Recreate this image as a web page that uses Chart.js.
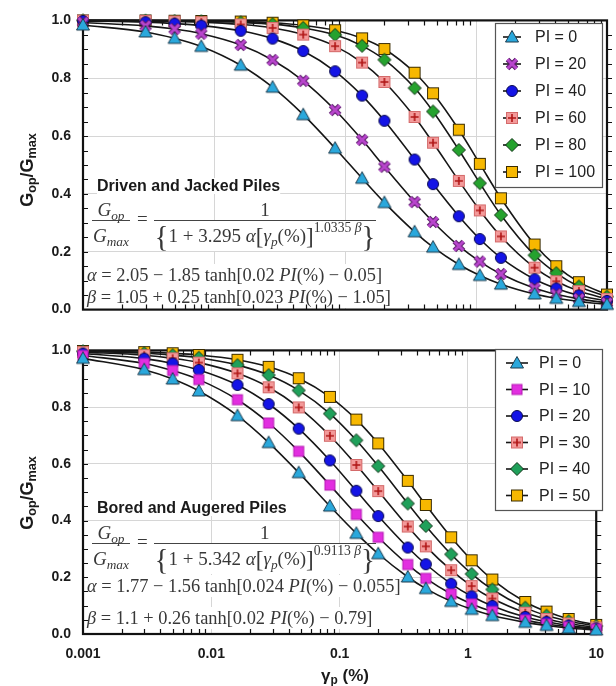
<!DOCTYPE html>
<html>
<head>
<meta charset="utf-8">
<script src="https://cdn.jsdelivr.net/npm/chart.js@4.4.0/dist/chart.umd.min.js"></script>
<style>
body{margin:0;background:#fff;}
#wrap{position:relative;width:616px;height:686px;overflow:hidden;font-family:"Liberation Sans",Arial,sans-serif;}
canvas{position:absolute;left:0;}
#c1{top:0;}
#c2{top:330px;}
.ytitle{position:absolute;font-weight:bold;font-size:18px;color:#1a1a1a;transform:translate(-50%,-50%) rotate(-90deg);white-space:nowrap;}
.ytitle sub,.xtitle sub{font-size:0.7em;vertical-align:-0.25em;line-height:0;}
.xtitle{position:absolute;font-weight:bold;font-size:17px;color:#1a1a1a;transform:translate(-50%,-50%);white-space:nowrap;}
.ttl{position:absolute;font-weight:bold;font-size:16px;line-height:16px;color:#1a1a1a;white-space:nowrap;}
.frow{position:absolute;display:flex;align-items:flex-start;font-family:"Liberation Serif","DejaVu Serif",serif;font-size:19px;color:#383838;white-space:nowrap;}
.fr{display:flex;flex-direction:column;align-items:center;}
.nu{height:20px;line-height:20px;}
.nu span{padding:0 2px;}
.de{border-top:1.3px solid #444;height:30px;line-height:30px;padding:0 1px;}
.eqs{margin:9px 6px 0 7px;line-height:20px;}
.frow sub{font-size:0.7em;vertical-align:-0.3em;line-height:0;}
.frow sup{font-size:0.72em;vertical-align:0.75em;line-height:0;}
.bb{font-size:29px;vertical-align:-4px;line-height:0;}
.bk{font-size:23px;vertical-align:-2px;line-height:0;}
.ln{position:absolute;font-family:"Liberation Serif","DejaVu Serif",serif;font-size:18.4px;line-height:22px;color:#383838;white-space:nowrap;}
</style>
</head>
<body>
<div id="wrap">
  <canvas id="c1" width="616" height="330"></canvas>
  <canvas id="c2" width="616" height="356"></canvas>

  <div class="ytitle" style="left:27px;top:170px">G<sub>op</sub>/G<sub>max</sub></div>
  <div class="ytitle" style="left:27px;top:493px">G<sub>op</sub>/G<sub>max</sub></div>
  <div class="xtitle" style="left:345px;top:676px">γ<sub>p</sub> (%)</div>

  <div id="eq1">
    <div class="ttl mask" style="left:97px;top:178px">Driven and Jacked Piles</div>
    <div class="frow" style="left:92px;top:200px">
      <span class="fr"><span class="nu"><span class="mask"><i>G<sub>op</sub></i></span></span><span class="de mask"><i>G<sub>max</sub></i></span></span>
      <span class="eqs mask">=</span>
      <span class="fr"><span class="nu"><span class="mask">1</span></span><span class="de mask"><span class="bb">{</span>1 + 3.295 <i>α</i><span class="bk">[</span><i>γ<sub>p</sub></i>(%)<span class="bk">]</span><sup>1.0335 <i>β</i></sup><span class="bb">}</span></span></span>
    </div>
    <div class="ln mask" style="left:87px;top:264px"><i>α</i> = 2.05 − 1.85 tanh[0.02 <i>PI</i>(%) − 0.05]</div>
    <div class="ln mask" style="left:87px;top:286px"><i>β</i> = 1.05 + 0.25 tanh[0.023 <i>PI</i>(%) − 1.05]</div>
  </div>

  <div id="eq2">
    <div class="ttl mask" style="left:97px;top:500px">Bored and Augered Piles</div>
    <div class="frow" style="left:92px;top:523px">
      <span class="fr"><span class="nu"><span class="mask"><i>G<sub>op</sub></i></span></span><span class="de mask"><i>G<sub>max</sub></i></span></span>
      <span class="eqs mask">=</span>
      <span class="fr"><span class="nu"><span class="mask">1</span></span><span class="de mask"><span class="bb">{</span>1 + 5.342 <i>α</i><span class="bk">[</span><i>γ<sub>p</sub></i>(%)<span class="bk">]</span><sup>0.9113 <i>β</i></sup><span class="bb">}</span></span></span>
    </div>
    <div class="ln mask" style="left:87px;top:575px"><i>α</i> = 1.77 − 1.56 tanh[0.024 <i>PI</i>(%) − 0.055]</div>
    <div class="ln mask" style="left:87px;top:607px"><i>β</i> = 1.1 + 0.26 tanh[0.02 <i>PI</i>(%) − 0.79]</div>
  </div>
</div>

<script>
// strain levels of the markers (%)
var strain = [0.001, 0.003, 0.005, 0.008, 0.016, 0.028, 0.048, 0.084, 0.135, 0.2,
              0.34, 0.47, 0.74, 1.07, 1.55, 2.8, 4.1, 6.1, 10];
var xTickVals = [0.001, 0.01, 0.1, 1, 10];

// Driven and jacked piles
var drivenPI = [0, 20, 40, 60, 80, 100];
var drivenPI0   = [0.984,0.960,0.938,0.910,0.845,0.769,0.674,0.558,0.454,0.370,0.269,0.216,0.156,0.118,0.088,0.054,0.039,0.028,0.018];
var drivenPI20  = [0.993,0.981,0.970,0.954,0.915,0.863,0.791,0.690,0.587,0.494,0.372,0.303,0.220,0.166,0.123,0.074,0.053,0.037,0.023];
var drivenPI40  = [0.998,0.994,0.989,0.982,0.964,0.937,0.894,0.824,0.740,0.653,0.519,0.434,0.323,0.244,0.179,0.105,0.073,0.049,0.030];
var drivenPI60  = [0.999,0.998,0.996,0.994,0.986,0.974,0.951,0.911,0.854,0.787,0.666,0.577,0.445,0.343,0.253,0.145,0.098,0.064,0.037];
var drivenPI80  = [1.000,0.999,0.998,0.997,0.993,0.987,0.974,0.950,0.912,0.864,0.766,0.685,0.552,0.437,0.327,0.188,0.126,0.080,0.045];
var drivenPI100 = [1.000,1.000,0.999,0.998,0.996,0.992,0.983,0.966,0.938,0.901,0.819,0.748,0.622,0.504,0.385,0.225,0.150,0.095,0.052];

// Bored and augered piles
var boredPI = [0, 10, 20, 30, 40, 50];
var boredPI0  = [0.972,0.932,0.899,0.857,0.770,0.675,0.569,0.451,0.355,0.283,0.201,0.160,0.115,0.087,0.065,0.041,0.030,0.021,0.014];
var boredPI10 = [0.982,0.954,0.929,0.897,0.826,0.744,0.644,0.525,0.422,0.341,0.245,0.196,0.141,0.106,0.079,0.049,0.035,0.025,0.017];
var boredPI20 = [0.989,0.971,0.954,0.931,0.878,0.811,0.724,0.612,0.505,0.416,0.305,0.246,0.177,0.133,0.099,0.060,0.043,0.030,0.020];
var boredPI30 = [0.994,0.983,0.972,0.957,0.919,0.870,0.799,0.699,0.596,0.504,0.379,0.309,0.225,0.169,0.125,0.075,0.053,0.037,0.023];
var boredPI40 = [0.997,0.990,0.983,0.974,0.948,0.913,0.859,0.777,0.683,0.592,0.460,0.381,0.281,0.212,0.157,0.093,0.065,0.045,0.028];
var boredPI50 = [0.998,0.994,0.990,0.984,0.967,0.942,0.902,0.836,0.756,0.672,0.540,0.455,0.341,0.260,0.192,0.113,0.079,0.053,0.032];


// small canvases used as point markers
function marker(kind) {
    var s = 16, c = document.createElement('canvas');
    c.width = s; c.height = s;
    var g = c.getContext('2d'), m = s / 2;
    g.lineJoin = 'miter';
    if (kind == 'tri') {
        g.beginPath();
        g.moveTo(m, m - 6.5); g.lineTo(m + 6.5, m + 5); g.lineTo(m - 6.5, m + 5); g.closePath();
        g.fillStyle = '#2aa8dc'; g.fill();
        g.strokeStyle = '#1d3b4d'; g.lineWidth = 1; g.stroke();
    } else if (kind == 'x') {
        g.beginPath();
        g.moveTo(m - 4.5, m - 4.5); g.lineTo(m + 4.5, m + 4.5);
        g.moveTo(m + 4.5, m - 4.5); g.lineTo(m - 4.5, m + 4.5);
        g.strokeStyle = '#5b1a6b'; g.lineWidth = 5; g.stroke();
        g.strokeStyle = '#b845cc'; g.lineWidth = 3; g.stroke();
    } else if (kind == 'circle') {
        g.beginPath(); g.arc(m, m, 5.5, 0, Math.PI * 2);
        g.fillStyle = '#1414e6'; g.fill();
        g.strokeStyle = '#0a0a50'; g.lineWidth = 1; g.stroke();
    } else if (kind == 'sqcross') {
        g.fillStyle = '#f39a9a'; g.fillRect(m - 5.5, m - 5.5, 11, 11);
        g.strokeStyle = '#d46a6a'; g.lineWidth = 1; g.strokeRect(m - 5.5, m - 5.5, 11, 11);
        g.beginPath();
        g.moveTo(m - 4, m); g.lineTo(m + 4, m); g.moveTo(m, m - 4); g.lineTo(m, m + 4);
        g.strokeStyle = '#b01515'; g.lineWidth = 1.6; g.stroke();
    } else if (kind == 'diamond' || kind == 'diamond2') {
        g.beginPath();
        g.moveTo(m, m - 6.5); g.lineTo(m + 6.5, m); g.lineTo(m, m + 6.5); g.lineTo(m - 6.5, m); g.closePath();
        g.fillStyle = kind == 'diamond' ? '#25a22e' : '#1fa05a'; g.fill();
        g.strokeStyle = '#0f3315'; g.lineWidth = 1; g.stroke();
    } else if (kind == 'sqyellow') {
        g.fillStyle = '#f7b800'; g.fillRect(m - 5.5, m - 5.5, 11, 11);
        g.strokeStyle = '#3b2c00'; g.lineWidth = 1; g.strokeRect(m - 5.5, m - 5.5, 11, 11);
    } else if (kind == 'sqmagenta') {
        g.fillStyle = '#e22ee0'; g.fillRect(m - 5, m - 5, 10, 10);
        g.strokeStyle = '#b51db3'; g.lineWidth = 1; g.strokeRect(m - 5, m - 5, 10, 10);
    }
    return c;
}

function serie(pi, vals, kind) {
    return {
        label: 'PI = ' + pi,
        data: strain.map(function (x, i) { return {x: x, y: vals[i]}; }),
        borderColor: '#161616',
        borderWidth: 1.6,
        cubicInterpolationMode: 'monotone',
        pointStyle: marker(kind),
        pointRadius: 6,
        clip: false
    };
}

// white boxes behind the equation text, frame, minor ticks
var frame = {
    id: 'frame',
    beforeDatasetsDraw: function (chart, args, o) {
        var a = chart.chartArea, ctx = chart.ctx, xs = chart.scales.x, ys = chart.scales.y;
        ctx.save();
        var cr = chart.canvas.getBoundingClientRect();
        ctx.fillStyle = '#fff';
        document.querySelectorAll('#' + o.mask + ' .mask').forEach(function (el) {
            var r = el.getBoundingClientRect();
            ctx.fillRect(r.left - cr.left, r.top - cr.top, r.width, r.height);
        });
        ctx.strokeStyle = '#111';
        ctx.lineWidth = 1.2;
        ctx.beginPath();
        for (var d = -3; d < 1; d++) {
            for (var k = 2; k < 10; k++) {
                var px = Math.round(xs.getPixelForValue(k * Math.pow(10, d))) + 0.5;
                ctx.moveTo(px, a.bottom); ctx.lineTo(px, a.bottom - 5);
                ctx.moveTo(px, a.top); ctx.lineTo(px, a.top + 5);
            }
        }
        for (var v = 0.05; v < 1; v += 0.05) {
            var py = Math.round(ys.getPixelForValue(v)) + 0.5;
            ctx.moveTo(a.left, py); ctx.lineTo(a.left + 5, py);
            ctx.moveTo(a.right, py); ctx.lineTo(a.right + 5, py);
        }
        ctx.stroke();
        ctx.lineWidth = 2.2;
        ctx.strokeRect(a.left, a.top, a.right - a.left, a.bottom - a.top);
        ctx.restore();
    }
};

var boxLegend = {
    id: 'boxLegend',
    afterDraw: function (chart, args, o) {
        var ctx = chart.ctx;
        ctx.save();
        ctx.fillStyle = '#fff';
        ctx.fillRect(o.x, o.y, o.w, o.h);
        ctx.strokeStyle = '#555'; ctx.lineWidth = 1.2;
        ctx.strokeRect(o.x + 0.5, o.y + 0.5, o.w, o.h);
        ctx.font = '16px "Liberation Sans", Arial, sans-serif';
        ctx.textBaseline = 'middle';
        chart.data.datasets.forEach(function (ds, i) {
            var cy = o.y + o.first + i * o.step;
            ctx.beginPath();
            ctx.moveTo(o.x + o.lx0, cy); ctx.lineTo(o.x + o.lx1, cy);
            ctx.strokeStyle = '#161616'; ctx.lineWidth = 1.6; ctx.stroke();
            var img = ds.pointStyle, mx = o.x + (o.lx0 + o.lx1) / 2;
            ctx.drawImage(img, mx - img.width / 2, cy - img.height / 2);
            ctx.fillStyle = '#222';
            ctx.fillText(ds.label, o.x + o.tx, cy + 1);
        });
        ctx.restore();
    }
};

function makeChart(id, datasets, padTop, xHeight, showX, maskId, legendOpts) {
    return new Chart(document.getElementById(id), {
        type: 'line',
        data: {datasets: datasets},
        plugins: [frame, boxLegend],
        options: {
            responsive: false,
            animation: false,
            events: [],
            layout: {padding: {left: 0, right: 9, top: padTop, bottom: 0}},
            plugins: {
                legend: {display: false},
                tooltip: {enabled: false},
                frame: {mask: maskId},
                boxLegend: legendOpts
            },
            scales: {
                x: {
                    type: 'logarithmic',
                    min: 0.001, max: 10,
                    afterBuildTicks: function (s) {
                        s.ticks = xTickVals.map(function (v) { return {value: v}; });
                    },
                    afterFit: function (s) { s.height = xHeight; },
                    grid: {color: '#d6d6d6', lineWidth: 1, drawTicks: false},
                    border: {display: false},
                    ticks: {
                        display: showX,
                        padding: 12,
                        maxRotation: 0,
                        autoSkip: false,
                        color: '#1a1a1a',
                        font: {family: '"Liberation Sans", Arial, sans-serif', size: 14, weight: 'bold'},
                        callback: function (v) { return String(v); }
                    }
                },
                y: {
                    min: 0, max: 1,
                    afterFit: function (s) { s.width = 83; },
                    grid: {color: '#d6d6d6', lineWidth: 1, drawTicks: false},
                    border: {display: false},
                    ticks: {
                        stepSize: 0.2,
                        padding: 12,
                        color: '#1a1a1a',
                        font: {family: '"Liberation Sans", Arial, sans-serif', size: 14, weight: 'bold'},
                        callback: function (v) { return v.toFixed(1); }
                    }
                }
            }
        }
    });
}

makeChart('c1', [
    serie(drivenPI[0], drivenPI0, 'tri'),
    serie(drivenPI[1], drivenPI20, 'x'),
    serie(drivenPI[2], drivenPI40, 'circle'),
    serie(drivenPI[3], drivenPI60, 'sqcross'),
    serie(drivenPI[4], drivenPI80, 'diamond'),
    serie(drivenPI[5], drivenPI100, 'sqyellow')
], 18, 16, false, 'eq1', {x: 495, y: 23, w: 107, h: 164, first: 14, step: 27, lx0: 8, lx1: 26, tx: 40});

makeChart('c2', [
    serie(boredPI[0], boredPI0, 'tri'),
    serie(boredPI[1], boredPI10, 'sqmagenta'),
    serie(boredPI[2], boredPI20, 'circle'),
    serie(boredPI[3], boredPI30, 'sqcross'),
    serie(boredPI[4], boredPI40, 'diamond2'),
    serie(boredPI[5], boredPI50, 'sqyellow')
], 14, 52, true, 'eq2', {x: 495, y: 19, w: 107, h: 161, first: 14, step: 26.5, lx0: 11, lx1: 33, tx: 44});
</script>
</body>
</html>
